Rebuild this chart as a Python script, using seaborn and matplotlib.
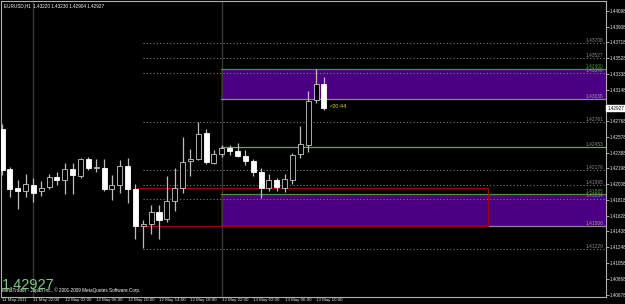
import numpy as np
import pandas as pd
import matplotlib
matplotlib.use("Agg")
import matplotlib.pyplot as plt
from matplotlib import font_manager
import seaborn as sns

# ---------------- data ----------------
symbol = "EURUSD,H1"
opens = [1.42677, 1.42196, 1.41967, 1.41931, 1.42003, 1.41931, 1.41979, 1.42099, 1.42063, 1.42196,
         1.42111, 1.42316, 1.42208, 1.42208, 1.41955, 1.42003, 1.42232, 1.41955, 1.41509, 1.41533,
         1.41678, 1.41594, 1.41810, 1.41967, 1.42292, 1.42316, 1.42629, 1.42268, 1.42376, 1.42448,
         1.42412, 1.42352, 1.42292, 1.42159, 1.41967, 1.42063, 1.41967, 1.42063, 1.42376, 1.42485,
         1.43026, 1.43220]
highs = [1.42740, 1.42220, 1.42063, 1.42135, 1.42087, 1.42051, 1.42135, 1.42159, 1.42268, 1.42268,
         1.42320, 1.42340, 1.42316, 1.42316, 1.42123, 1.42304, 1.42328, 1.42015, 1.41582, 1.41762,
         1.41762, 1.42111, 1.42208, 1.42581, 1.42437, 1.42761, 1.42677, 1.42424, 1.42485, 1.42485,
         1.42509, 1.42424, 1.42316, 1.42208, 1.42135, 1.42087, 1.42135, 1.42388, 1.42713, 1.43135,
         1.43400, 1.43300]
lows = [1.42123, 1.41858, 1.41714, 1.41858, 1.41798, 1.41870, 1.41955, 1.42003, 1.41895, 1.41895,
        1.42087, 1.42184, 1.42159, 1.41931, 1.41822, 1.41907, 1.41778, 1.41353, 1.41233, 1.41413,
        1.41353, 1.41557, 1.41690, 1.41898, 1.42111, 1.42304, 1.42256, 1.42256, 1.42340, 1.42364,
        1.42340, 1.42244, 1.42111, 1.41846, 1.41931, 1.41931, 1.41919, 1.42015, 1.42328, 1.42400,
        1.42990, 1.42904]
closes = [1.42184, 1.41955, 1.41931, 1.42015, 1.41907, 1.41967, 1.42099, 1.42063, 1.42196, 1.42123,
          1.42316, 1.42208, 1.42220, 1.41955, 1.42003, 1.42232, 1.41955, 1.41509, 1.41533, 1.41678,
          1.41582, 1.41810, 1.41967, 1.42280, 1.42316, 1.42617, 1.42280, 1.42376, 1.42448, 1.42412,
          1.42352, 1.42292, 1.42159, 1.41967, 1.42063, 1.41979, 1.42075, 1.42364, 1.42497, 1.43014,
          1.43219, 1.42927]

time_tick_idx = [0, 4, 8, 12, 16, 20, 24, 28, 32, 36, 40]
time_tick_labels = ["11 May 2011", "11 May 22:00", "12 May 02:00", "12 May 06:00", "12 May 10:00",
                    "12 May 14:00", "12 May 18:00", "12 May 22:00", "13 May 02:00", "13 May 06:00",
                    "13 May 10:00"]
separator_idx = [4, 28]

price_ticks = [1.44098, 1.43908, 1.43718, 1.43528, 1.43338, 1.43148, 1.42768, 1.42578, 1.42388,
               1.42198, 1.42008, 1.41818, 1.41628, 1.41438, 1.41248, 1.41058, 1.40868, 1.40678]
last_price = 1.42927
header_values = "1.43220 1.43230 1.42904 1.42927"

dotted_levels = [1.43708, 1.43527, 1.43349, 1.42761, 1.42176, 1.41995, 1.41834, 1.41229]
dotted_start = 18
solid_levels = [1.43400, 1.43038, 1.42453, 1.41885, 1.41506]
solid_colors = ["#4f8a4f", "#8a8a8a", "#7a967a", "#4f8a4f", "#8a8a8a"]
solid_start = 27.9

zones = [(1.43038, 1.43400), (1.41506, 1.41885)]
zone_start = 27.9
red_box = (17.26, 61.9, 1.41509, 1.41967)

timer_text = "<20:44"

# ---------------- style ----------------
sns.set_theme(style="dark", rc={"axes.facecolor": "black", "figure.facecolor": "black",
                                "axes.edgecolor": "#b0b0b0", "text.color": "white",
                                "xtick.color": "white", "ytick.color": "white"})
names = {f.name for f in font_manager.fontManager.ttflist}
if "Liberation Sans Narrow" in names:
    small = "Liberation Sans Narrow"
elif "DejaVu Sans Condensed" in names:
    small = "DejaVu Sans Condensed"
else:
    small = "Liberation Sans"
plt.rcParams['font.family'] = [small, 'DejaVu Sans']

W, H = 625, 304
fig = plt.figure(figsize=(W / 100, H / 100), dpi=100, facecolor="black")
ax = fig.add_axes([1.5 / W, 7.5 / H, 604.5 / W, 295.5 / H])
ax.set_facecolor("black")

x_right = 76.94
ax.set_xlim(-0.064, x_right)
ax.set_ylim(1.40654, 1.44218)

df = pd.DataFrame({"o": opens, "h": highs, "l": lows, "c": closes})
df["i"] = np.arange(len(df))

# zones
for lo, hi in zones:
    ax.fill_between([zone_start, x_right + 1], lo, hi, color="#4b0082", lw=0, zorder=0.5)
# separators
for s in separator_idx:
    ax.axvline(s, color="#343a34", lw=1.0, zorder=0.6)
# dotted levels
for lv in dotted_levels:
    ax.plot([dotted_start, x_right + 1], [lv, lv], color="#7a7a7a", lw=0.8,
            linestyle=(0, (1, 2)), zorder=1)
    ax.text(76.6, lv + 0.00003, f"{lv:.5f}", color="#8a8a8a", fontsize=3.5,
            ha="right", va="bottom", zorder=5)
for lv, col in zip(solid_levels, solid_colors):
    ax.plot([solid_start, x_right + 1], [lv, lv], color=col, lw=0.9, zorder=1)
    ax.text(76.6, lv + 0.00003, f"{lv:.5f}", color=col if col != "#8a8a8a" else "#9a9a9a",
            fontsize=3.5, ha="right", va="bottom", zorder=5)

# red rectangle
x0, x1, y0, y1 = red_box
ax.plot([x0, x1, x1, x0, x0], [y0, y0, y1, y1, y0], color="#a00000", lw=0.9, zorder=1.5)

# candles
bw = 0.64
wick_col = "#bdbdbd"
ax.vlines(df["i"], df["l"], df["h"], color=wick_col, lw=0.9, zorder=3)
for _, r in df.iterrows():
    lo = min(r.o, r.c)
    hgt = max(abs(r.c - r.o), 0.00008)
    if r.c < r.o:
        ax.bar(r.i, hgt, bottom=lo, width=bw, color="white", edgecolor="white", lw=0.6, zorder=4)
    else:
        ax.bar(r.i, hgt, bottom=lo, width=bw, color="black", edgecolor="#c8c8c8", lw=0.6, zorder=4)

ax.text(41.7, 1.42940, timer_text, color="#d8d800", fontsize=4.0, ha="left", va="center", zorder=6)

# axes
ax.grid(False)
for sp in ax.spines.values():
    sp.set_color("#b0b0b0")
    sp.set_linewidth(0.8)
ax.yaxis.tick_right()
ax.set_yticks(price_ticks)
ax.set_yticklabels([f"{v:.5f}" for v in price_ticks], fontsize=3.3)
ax.tick_params(axis="y", length=2, width=0.6, pad=0.4, colors="#c0c0c0", labelcolor="#e8e8e8")
ax.set_xticks(time_tick_idx)
ax.set_xticklabels(time_tick_labels, fontsize=3.15, ha="left")
ax.tick_params(axis="x", length=2, width=0.6, pad=-1.2, colors="#c0c0c0", labelcolor="#e8e8e8")

# last price box
ax.annotate(f"{last_price:.5f}", xy=(1.0, last_price), xycoords=("axes fraction", "data"),
            xytext=(1.0, 0), textcoords="offset points", fontsize=3.3, color="black",
            ha="left", va="center", annotation_clip=False,
            bbox=dict(boxstyle="square,pad=0.2", fc="white", ec="white"), zorder=7)

# header and overlays
fig.text(4 / W, 1 - 5.5 / H, f"{symbol}  {header_values}", fontsize=3.35,
         color="white", ha="left", va="center")
fig.text(2 / W, 1 - 293 / H, "MetaTrader - Japan Inc., \u00a9 2001-2009 MetaQuotes Software Corp.",
         fontsize=3.3, color="white", ha="left", va="bottom")
fig.text(2 / W, 1 - 292 / H, f"{last_price:.5f}", fontsize=10.5, color="#7ccd7c",
         ha="left", va="bottom", family=["Liberation Sans", "DejaVu Sans"])

fig.savefig("out.png", dpi=100, facecolor="black")
